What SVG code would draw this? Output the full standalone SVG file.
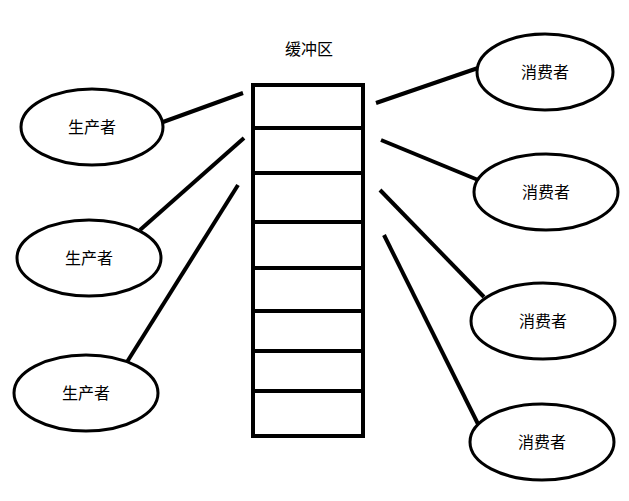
<svg xmlns="http://www.w3.org/2000/svg" width="629" height="501" viewBox="0 0 629 501">
<style>
.n{fill:#fff;stroke:#000;stroke-width:3}
.t{font-family:"Microsoft YaHei","Noto Sans CJK SC",sans-serif;font-size:16px;text-anchor:middle;fill:#000}
.c line{stroke:#000;stroke-width:4}
.b{fill:none;stroke:#000;stroke-width:4}
</style>
<rect width="629" height="501" fill="#fff"/>
<g class="c" id="connectors">
<line x1="163" y1="122" x2="243" y2="93"/>
<line x1="140" y1="230" x2="244" y2="138"/>
<line x1="127" y1="362" x2="238" y2="185"/>
<line x1="376" y1="103" x2="478" y2="68"/>
<line x1="381" y1="140" x2="483" y2="182"/>
<line x1="380" y1="190" x2="484" y2="297"/>
<line x1="384" y1="235" x2="479" y2="426"/>
</g>
<g id="buffer">
<text class="t" x="309" y="55">缓冲区</text>
<rect class="b" x="253" y="85" width="110" height="351"/>
<path class="b" d="M253 128H363M253 173H363M253 222H363M253 268H363M253 311H363M253 351H363M253 391H363"/>
</g>
<g id="p1"><ellipse class="n" cx="92" cy="127" rx="71" ry="38"/><text class="t" x="92" y="133">生产者</text></g>
<g id="p2"><ellipse class="n" cx="89" cy="258" rx="72" ry="38"/><text class="t" x="89" y="264">生产者</text></g>
<g id="p3"><ellipse class="n" cx="86" cy="393" rx="72" ry="38"/><text class="t" x="86" y="399">生产者</text></g>
<g id="c1"><ellipse class="n" cx="545" cy="72" rx="68" ry="38"/><text class="t" x="545" y="78">消费者</text></g>
<g id="c2"><ellipse class="n" cx="546" cy="192" rx="72" ry="38"/><text class="t" x="546" y="198">消费者</text></g>
<g id="c3"><ellipse class="n" cx="543" cy="321" rx="72" ry="38"/><text class="t" x="543" y="327">消费者</text></g>
<g id="c4"><ellipse class="n" cx="542" cy="442" rx="72" ry="38"/><text class="t" x="542" y="448">消费者</text></g>
</svg>
